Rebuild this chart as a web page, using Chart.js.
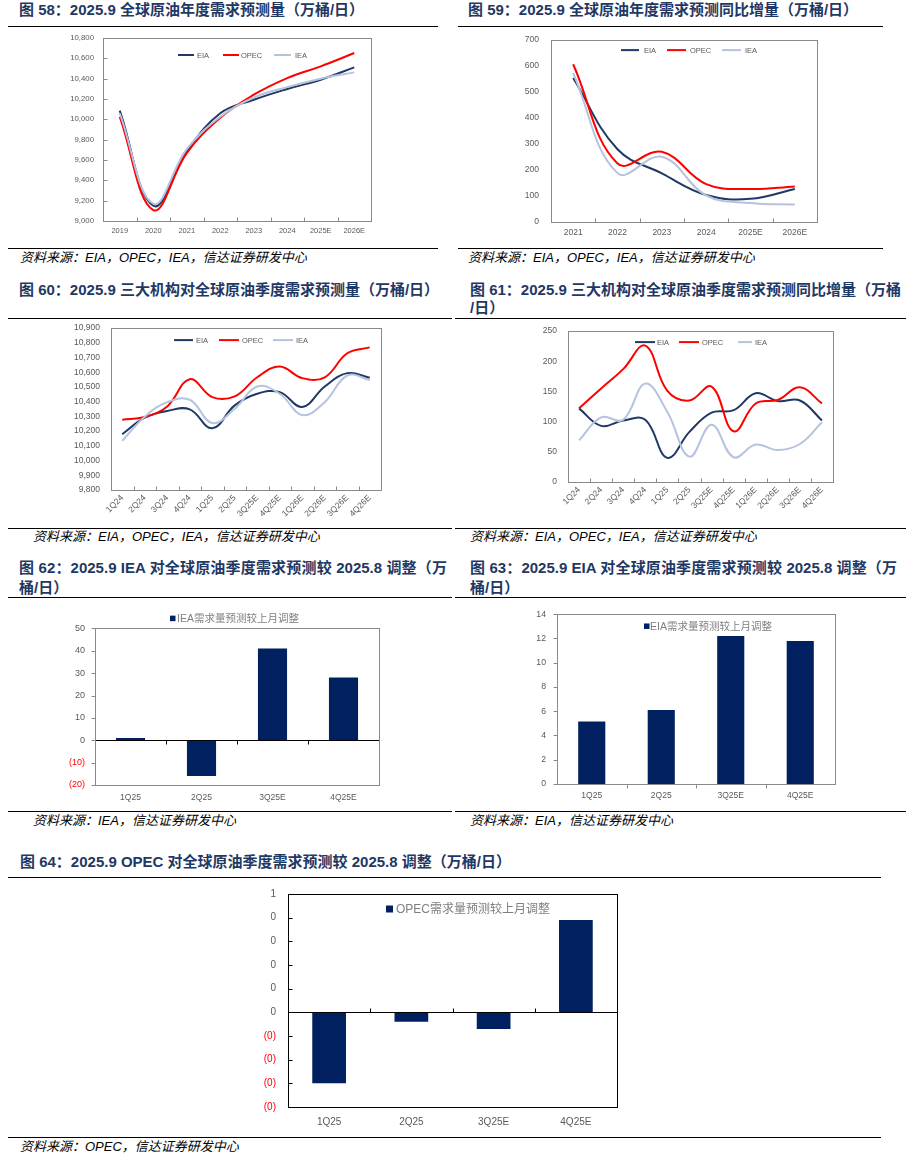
<!DOCTYPE html>
<html><head><meta charset="utf-8">
<script src="https://cdn.jsdelivr.net/npm/chart.js@4.4.0/dist/chart.umd.min.js"></script>
<style>
html,body{margin:0;padding:0;background:#fff;}
body{width:906px;height:1168px;position:relative;overflow:hidden;font-family:"Liberation Sans","Noto Sans CJK SC",sans-serif;}
.t{position:absolute;font-weight:bold;font-size:15px;line-height:20px;color:#1F3864;white-space:nowrap;}
.j{text-align:justify;text-align-last:justify;}
.s{position:absolute;font-style:italic;font-size:13px;line-height:18px;color:#000;white-space:nowrap;}
.h{position:absolute;height:0;border-top:1.3px solid #000;}
canvas{position:absolute;}
</style></head><body>

<div class="t" style="left:19px;top:0px;">图 58：2025.9 全球原油年度需求预测量（万桶/日）</div>
<div class="t" style="left:468px;top:0px;">图 59：2025.9 全球原油年度需求预测同比增量（万桶/日）</div>
<div class="h" style="left:8px;top:26px;width:430px;"></div>
<div class="h" style="left:458px;top:26px;width:425px;"></div>
<div class="h" style="left:8px;top:248px;width:430px;"></div>
<div class="h" style="left:458px;top:248px;width:425px;"></div>
<div class="s" style="left:20px;top:249px;">资料来源：EIA，OPEC，IEA，信达证券研发中心</div>
<div class="s" style="left:468px;top:249px;">资料来源：EIA，OPEC，IEA，信达证券研发中心</div>

<div class="t" style="left:19px;top:280px;">图 60：2025.9 三大机构对全球原油季度需求预测量（万桶/日）</div>
<div class="t j" style="left:470px;top:280px;width:428px;">图 61：2025.9 三大机构对全球原油季度需求预测同比增量（万桶</div>
<div class="t" style="left:470px;top:298px;">/日）</div>
<div class="h" style="left:8px;top:318px;width:444px;"></div>
<div class="h" style="left:455px;top:318px;width:451px;"></div>
<div class="h" style="left:8px;top:528px;width:444px;"></div>
<div class="h" style="left:455px;top:528px;width:451px;"></div>
<div class="s" style="left:33px;top:528px;">资料来源：EIA，OPEC，IEA，信达证券研发中心</div>
<div class="s" style="left:470px;top:528px;">资料来源：EIA，OPEC，IEA，信达证券研发中心</div>

<div class="t j" style="left:19px;top:558px;width:428px;">图 62：2025.9 IEA 对全球原油季度需求预测较 2025.8 调整（万</div>
<div class="t" style="left:19px;top:578px;">桶/日）</div>
<div class="t j" style="left:470px;top:558px;width:427px;">图 63：2025.9 EIA 对全球原油季度需求预测较 2025.8 调整（万</div>
<div class="t" style="left:470px;top:578px;">桶/日）</div>
<div class="h" style="left:8px;top:597px;width:444px;"></div>
<div class="h" style="left:455px;top:597px;width:451px;"></div>
<div class="h" style="left:8px;top:811px;width:444px;"></div>
<div class="h" style="left:455px;top:811px;width:451px;"></div>
<div class="s" style="left:33px;top:812px;">资料来源：IEA，信达证券研发中心</div>
<div class="s" style="left:470px;top:812px;">资料来源：EIA，信达证券研发中心</div>

<div class="t" style="left:20px;top:852px;">图 64：2025.9 OPEC 对全球原油季度需求预测较 2025.8 调整（万桶/日）</div>
<div class="h" style="left:8px;top:877px;width:873px;"></div>
<div class="h" style="left:8px;top:1137px;width:873px;"></div>
<div class="s" style="left:20px;top:1138px;">资料来源：OPEC，信达证券研发中心</div>

<canvas id="c58"></canvas>
<canvas id="c59"></canvas>
<canvas id="c60"></canvas>
<canvas id="c61"></canvas>
<canvas id="c62"></canvas>
<canvas id="c63"></canvas>
<canvas id="c64"></canvas>

<script>
// ---------------- DATA ----------------
const years58 = ['2019','2020','2021','2022','2023','2024','2025E','2026E'];
const eia58  = [10085, 9150, 9683, 10060, 10192, 10298, 10390, 10511];
const opec58 = [10025, 9108, 9667, 10015, 10242, 10406, 10521, 10652];
const iea58  = [10060, 9170, 9706, 10025, 10215, 10317, 10400, 10462];

const years59 = ['2021','2022','2023','2024','2025E','2026E'];
const eia59  = [554, 280, 187, 104, 89, 127];
const opec59 = [607, 225, 270, 146, 127, 137];
const iea59  = [573, 188, 251, 102, 73, 67];

const quarters = ['1Q24','2Q24','3Q24','4Q24','1Q25','2Q25','3Q25E','4Q25E','1Q26E','2Q26E','3Q26E','4Q26E'];
const eia60  = [10179, 10291, 10337, 10348, 10219, 10375, 10454, 10465, 10364, 10503, 10594, 10562];
const opec60 = [10278, 10296, 10368, 10553, 10431, 10436, 10566, 10639, 10560, 10566, 10729, 10769];
const iea60  = [10134, 10298, 10397, 10413, 10255, 10352, 10503, 10454, 10309, 10397, 10578, 10548];

const eia61  = [122, 93, 102, 103, 40, 83, 115, 119, 147, 134, 135, 102];
const opec61 = [122, 155, 187, 226, 151, 135, 158, 84, 130, 136, 157, 130];
const iea61  = [69, 107, 103, 163, 116, 42, 95, 41, 62, 53, 63, 99];

const adjQuarters = ['1Q25','2Q25','3Q25E','4Q25E'];
const ieaAdj  = [1, -16, 41, 28];
const eiaAdj  = [5.15, 6.1, 12.2, 11.8];
const opecAdj = [-0.30, -0.04, -0.07, 0.39];

const seriesNames = ['EIA','OPEC','IEA'];
const barLegend62 = 'IEA需求量预测较上月调整';
const barLegend63 = 'EIA需求量预测较上月调整';
const barLegend64 = 'OPEC需求量预测较上月调整';

// ---------------- STYLE ----------------
const C_EIA = '#1F3864', C_OPEC = '#FF0000', C_IEA = '#B4C3DE', C_BAR = '#002060';
const TICK = '#595959', FAM = '"Liberation Sans","Noto Sans CJK SC",sans-serif';
const YW = 60, TP = 15, RP = 15, XH = 48;

const overlay = {
  id: 'overlay',
  afterDatasetsDraw(chart, args, o) {
    const c = chart.ctx, a = chart.chartArea, xs = chart.scales.x, ys = chart.scales.y;
    const px = v => Math.round(v) + 0.5;
    c.save();
    c.lineWidth = 1;
    if (o.zero) {
      const y0 = px(ys.getPixelForValue(0));
      c.strokeStyle = o.zero; c.beginPath(); c.moveTo(a.left, y0); c.lineTo(a.right, y0); c.stroke();
    }
    c.strokeStyle = o.frame;
    c.strokeRect(px(a.left), px(a.top), Math.round(a.right - a.left), Math.round(a.bottom - a.top));
    if (o.yTick) {
      ys.ticks.forEach(t => {
        const y = px(ys.getPixelForValue(t.value));
        c.beginPath(); c.moveTo(px(a.left), y); c.lineTo(px(a.left) + o.yTick, y); c.stroke();
      });
    }
    if (o.xTick) {
      c.strokeStyle = o.xTickColor || o.frame;
      const base = o.xTickBase === 'zero' ? px(ys.getPixelForValue(0)) : px(a.bottom);
      const n = xs.getLabels().length;
      for (let i = 1; i < n; i++) {
        const x = px(xs.getPixelForValue(i - 0.5));
        c.beginPath(); c.moveTo(x, base); c.lineTo(x, base + o.xTick); c.stroke();
      }
    }
    const ox = a.left - o.plotL, oy = a.top - o.plotT;
    c.font = o.legendFont; c.textBaseline = 'middle'; c.textAlign = 'left';
    (o.items || []).forEach(it => {
      if (it.kind === 'line') {
        c.strokeStyle = it.color; c.lineWidth = 2;
        c.beginPath(); c.moveTo(it.x1 + ox, it.y + oy); c.lineTo(it.x2 + ox, it.y + oy); c.stroke();
      } else {
        c.fillStyle = it.color;
        c.fillRect(it.x + ox, it.y + oy - it.s / 2, it.s, it.s);
      }
      c.fillStyle = o.legendColor;
      c.fillText(it.text, it.tx + ox, it.y + oy + 0.5);
    });
    c.restore();
  }
};

function mk(id, plot, type, labels, datasets, yopt, xopt, ov) {
  const cv = document.getElementById(id);
  const w = plot.r - plot.l + YW + RP, h = plot.b - plot.t + TP + XH;
  cv.width = w; cv.height = h;
  cv.style.left = (plot.l - YW) + 'px'; cv.style.top = (plot.t - TP) + 'px';
  cv.style.width = w + 'px'; cv.style.height = h + 'px';
  ov.plotL = plot.l; ov.plotT = plot.t;
  return new Chart(cv, {
    type, data: { labels, datasets }, plugins: [overlay],
    options: {
      responsive: false, animation: false,
      layout: { padding: { left: 0, top: TP, right: RP, bottom: 0 } },
      plugins: { legend: { display: false }, tooltip: { enabled: false }, overlay: ov },
      scales: {
        x: Object.assign({ type: 'category', offset: true, grid: { display: false, drawTicks: false }, border: { display: false },
          afterFit: s => { s.height = XH; } }, xopt),
        y: Object.assign({ type: 'linear', grid: { display: false, drawTicks: false }, border: { display: false },
          afterFit: s => { s.width = YW; } }, yopt)
      }
    }
  });
}

function lineSets(e, o, i) {
  const base = { borderWidth: 2, pointRadius: 0, tension: 0.4, fill: false };
  return [
    Object.assign({ label: seriesNames[0], data: e, borderColor: C_EIA, order: 2 }, base),
    Object.assign({ label: seriesNames[1], data: o, borderColor: C_OPEC, order: 1 }, base),
    Object.assign({ label: seriesNames[2], data: i, borderColor: C_IEA, order: 0 }, base)
  ];
}
function lineLegend(y, p) {
  return [
    { kind: 'line', x1: p[0], x2: p[1], tx: p[2], y, color: C_EIA, text: seriesNames[0] },
    { kind: 'line', x1: p[3], x2: p[4], tx: p[5], y, color: C_OPEC, text: seriesNames[1] },
    { kind: 'line', x1: p[6], x2: p[7], tx: p[8], y, color: C_IEA, text: seriesNames[2] }
  ];
}
const comma = v => Number(v).toLocaleString('en-US');
const paren = v => v < 0 ? '(' + Math.abs(v) + ')' : String(v);
const excel0 = v => { const r = Math.round(Math.abs(v) + 1e-9); return v < -1e-9 ? '(' + r + ')' : String(r); };
const redNeg = c => (c.tick && c.tick.value < -1e-9) ? '#FF0000' : TICK;

// Chart 58
mk('c58', { l: 103, t: 38, r: 371, b: 221 }, 'line', years58, lineSets(eia58, opec58, iea58),
  { min: 9000, max: 10800, ticks: { stepSize: 200, callback: comma, color: TICK, padding: 9, font: { family: FAM, size: 7.8 } } },
  { ticks: { color: TICK, padding: 5.5, maxRotation: 0, autoSkip: false, font: { family: FAM, size: 7.5 } } },
  { frame: '#8a8a8a', yTick: 4, xTick: -4, legendFont: '7.5px ' + FAM, legendColor: TICK,
    items: lineLegend(55, [178, 194, 197, 223, 239, 241, 274, 291, 295]) });

// Chart 59
mk('c59', { l: 551, t: 38, r: 817, b: 222 }, 'line', years59, lineSets(eia59, opec59, iea59),
  { min: 0, max: 700, ticks: { stepSize: 100, color: TICK, padding: 12, font: { family: FAM, size: 8.5 } } },
  { ticks: { color: TICK, padding: 6, maxRotation: 0, autoSkip: false, font: { family: FAM, size: 8.5 } } },
  { frame: '#8a8a8a', yTick: 0, xTick: -4, legendFont: '7.5px ' + FAM, legendColor: TICK,
    items: lineLegend(48, [621, 639, 644, 667, 686, 690, 722, 741, 745]) });

// Chart 60
mk('c60', { l: 111, t: 327, r: 381, b: 490 }, 'line', quarters, lineSets(eia60, opec60, iea60),
  { min: 9800, max: 10900, ticks: { stepSize: 100, callback: comma, color: TICK, padding: 11, font: { family: FAM, size: 8.5 } } },
  { ticks: { color: TICK, padding: 3, minRotation: 45, maxRotation: 45, autoSkip: false, font: { family: FAM, size: 8.5 } } },
  { frame: '#8a8a8a', yTick: 0, xTick: -4, legendFont: '7.5px ' + FAM, legendColor: TICK,
    items: lineLegend(339, [174, 193, 196, 219, 239, 242, 273, 293, 296]) });

// Chart 61
mk('c61', { l: 568, t: 330, r: 833, b: 482 }, 'line', quarters, lineSets(eia61, opec61, iea61),
  { min: 0, max: 250, ticks: { stepSize: 50, color: TICK, padding: 11, font: { family: FAM, size: 8.5 } } },
  { ticks: { color: TICK, padding: 3, minRotation: 45, maxRotation: 45, autoSkip: false, font: { family: FAM, size: 8.5 } } },
  { frame: '#8a8a8a', yTick: 0, xTick: -4, legendFont: '7.5px ' + FAM, legendColor: TICK,
    items: lineLegend(341, [635, 655, 657, 679, 699, 702, 738, 752, 755]) });

// Chart 62
mk('c62', { l: 95, t: 628, r: 379, b: 785 }, 'bar', adjQuarters,
  [{ label: barLegend62, data: ieaAdj, backgroundColor: C_BAR, categoryPercentage: 0.41, barPercentage: 1 }],
  { min: -20, max: 50, ticks: { stepSize: 10, callback: paren, color: redNeg, padding: 10, font: { family: FAM, size: 9 } } },
  { ticks: { color: TICK, padding: 7.5, maxRotation: 0, autoSkip: false, font: { family: FAM, size: 8.5 } } },
  { frame: '#8a8a8a', zero: '#000', yTick: -4, xTick: 4, xTickBase: 'zero', xTickColor: '#000',
    legendFont: '10.5px ' + FAM, legendColor: '#7f7f7f',
    items: [{ kind: 'box', x: 170, y: 618, s: 5.5, tx: 177, color: C_BAR, text: barLegend62 }] });

// Chart 63
mk('c63', { l: 557, t: 613, r: 835, b: 784 }, 'bar', adjQuarters,
  [{ label: barLegend63, data: eiaAdj, backgroundColor: C_BAR, categoryPercentage: 0.39, barPercentage: 1 }],
  { min: 0, max: 14, ticks: { stepSize: 2, color: TICK, padding: 11, font: { family: FAM, size: 8.7 } } },
  { ticks: { color: TICK, padding: 6.5, maxRotation: 0, autoSkip: false, font: { family: FAM, size: 8.5 } } },
  { frame: '#8a8a8a', yTick: -4, xTick: 4, legendFont: '10.5px ' + FAM, legendColor: '#7f7f7f',
    items: [{ kind: 'box', x: 644, y: 625, s: 5.5, tx: 650, color: C_BAR, text: barLegend63 }] });

// Chart 64
mk('c64', { l: 288, t: 891, r: 617, b: 1107 }, 'bar', adjQuarters,
  [{ label: barLegend64, data: opecAdj, backgroundColor: C_BAR, categoryPercentage: 0.41, barPercentage: 1 }],
  { min: -0.4, max: 0.5, ticks: { stepSize: 0.1, callback: excel0, color: redNeg, padding: 12, font: { family: FAM, size: 10 } } },
  { ticks: { color: TICK, padding: 9, maxRotation: 0, autoSkip: false, font: { family: FAM, size: 10 } } },
  { frame: '#000', zero: '#000', yTick: 4, xTick: -4, xTickBase: 'zero', xTickColor: '#000',
    legendFont: '12px ' + FAM, legendColor: '#7f7f7f',
    items: [{ kind: 'box', x: 386, y: 906, s: 7, tx: 396, color: C_BAR, text: barLegend64 }] });
</script>
</body></html>
